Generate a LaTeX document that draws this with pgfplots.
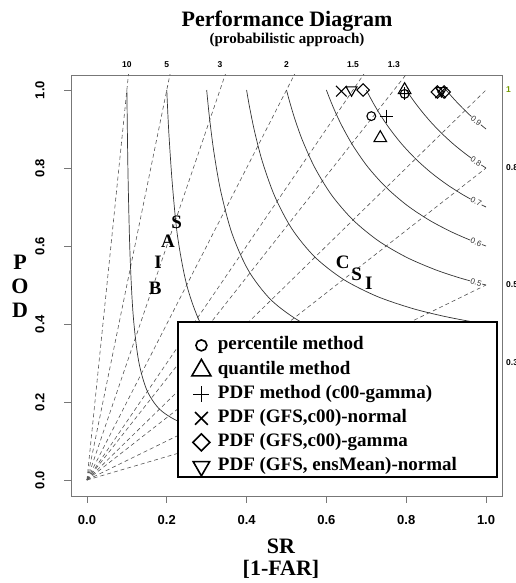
\documentclass[border=0pt]{standalone}
\usepackage{fontspec}
\setmainfont{Liberation Serif}
\newfontfamily\arial{Liberation Sans}
\usepackage{pgfplots}
\pgfplotsset{compat=1.18}
\definecolor{biasline}{HTML}{555555}
\definecolor{csiline}{HTML}{333333}
\definecolor{frame}{HTML}{777777}
\begin{document}
\begin{tikzpicture}
\begin{axis}[
  name=pd,
  at={(0,0)}, anchor=south west,
  scale only axis,
  width=431pt, height=421pt,
  xmin=-0.04, xmax=1.04, ymin=-0.041, ymax=1.0385,
  axis line style={frame, line width=0.8pt},
  xtick={0,0.2,0.4,0.6,0.8,1}, ytick={0,0.2,0.4,0.6,0.8,1},
  tick align=outside, xtick pos=bottom, ytick pos=left,
  major tick length=7pt,
  tick style={frame, line width=0.8pt},
  /pgf/number format/.cd, fixed, fixed zerofill, precision=1, assume math mode=true,
  /pgfplots/.cd,
  tick label style={font=\arial\bfseries\fontsize{13}{13}\selectfont},
  xticklabel style={anchor=center, yshift=-17pt},
  yticklabel style={xshift=-24pt, rotate=90, anchor=center},
  legend style={draw=none, fill=none, inner sep=0pt, at={(0.280,0.382)}, anchor=north west,
    font=\bfseries\fontsize{19}{19}\selectfont, row sep=4pt,
    nodes={inner xsep=7pt, inner ysep=1pt, text height=13.5pt, text depth=4.5pt}},
  legend cell align=left,
]
% bias lines
\addplot[forget plot, biasline, line width=0.6pt, dash pattern=on 4pt off 3pt] coordinates {(0,0) (1,10)};
\addplot[forget plot, biasline, line width=0.6pt, dash pattern=on 4pt off 3pt] coordinates {(0,0) (1,5)};
\addplot[forget plot, biasline, line width=0.6pt, dash pattern=on 4pt off 3pt] coordinates {(0,0) (1,3)};
\addplot[forget plot, biasline, line width=0.6pt, dash pattern=on 4pt off 3pt] coordinates {(0,0) (1,2)};
\addplot[forget plot, biasline, line width=0.6pt, dash pattern=on 4pt off 3pt] coordinates {(0,0) (1,1.5)};
\addplot[forget plot, biasline, line width=0.6pt, dash pattern=on 4pt off 3pt] coordinates {(0,0) (1,1.3)};
\addplot[forget plot, biasline, line width=0.6pt, dash pattern=on 4pt off 3pt] coordinates {(0,0) (1,1)};
\addplot[forget plot, biasline, line width=0.6pt, dash pattern=on 4pt off 3pt] coordinates {(0,0) (1,0.8)};
\addplot[forget plot, biasline, line width=0.6pt, dash pattern=on 4pt off 3pt] coordinates {(0,0) (1,0.5)};
\addplot[forget plot, biasline, line width=0.6pt, dash pattern=on 4pt off 3pt] coordinates {(0,0) (1,0.3)};
% CSI curves
\addplot[forget plot, csiline, line width=0.7pt, smooth] coordinates {(1,0.1) (0.787,0.1028) (0.581,0.1078) (0.4255,0.1156) (0.3077,0.129) (0.2309,0.1499) (0.1818,0.1818) (0.1499,0.2309) (0.129,0.3077) (0.1156,0.4255) (0.1078,0.581) (0.1028,0.787) (0.1,1)};
\addplot[forget plot, csiline, line width=0.7pt, smooth] coordinates {(1,0.2) (0.893,0.205) (0.758,0.214) (0.625,0.227) (0.5,0.25) (0.403,0.284) (0.333,0.333) (0.284,0.403) (0.25,0.5) (0.227,0.625) (0.214,0.758) (0.205,0.893) (0.2,1)};
\addplot[forget plot, csiline, line width=0.7pt, smooth] coordinates {(1,0.3) (0.9346,0.3064) (0.8427,0.3178) (0.7407,0.3352) (0.6316,0.3636) (0.5367,0.4049) (0.4615,0.4615) (0.4049,0.5367) (0.3636,0.6316) (0.3352,0.7407) (0.3178,0.8427) (0.3064,0.9346) (0.3,1)};
\addplot[forget plot, csiline, line width=0.7pt, smooth] coordinates {(1,0.4) (0.9569,0.4073) (0.8929,0.4202) (0.8163,0.4396) (0.7273,0.4706) (0.6431,0.5141) (0.5714,0.5714) (0.5141,0.6431) (0.4706,0.7273) (0.4396,0.8163) (0.4202,0.8929) (0.4073,0.9569) (0.4,1)};
\addplot[forget plot, csiline, line width=0.7pt, smooth] coordinates {(1,0.5) (0.9709,0.5076) (0.9259,0.5208) (0.8696,0.5405) (0.8,0.5714) (0.7299,0.6135) (0.6667,0.6667) (0.6135,0.7299) (0.5714,0.8) (0.5405,0.8696) (0.5208,0.9259) (0.5076,0.9709) (0.5,1)};
\addplot[forget plot, csiline, line width=0.7pt, smooth] coordinates {(1,0.6) (0.9804,0.6073) (0.9494,0.6198) (0.9091,0.6383) (0.8571,0.6667) (0.8021,0.7042) (0.75,0.75) (0.7042,0.8021) (0.6667,0.8571) (0.6383,0.9091) (0.6198,0.9494) (0.6073,0.9804) (0.6,1)};
\addplot[forget plot, csiline, line width=0.7pt, smooth] coordinates {(1,0.7) (0.9873,0.7064) (0.9669,0.7172) (0.9396,0.733) (0.9032,0.7568) (0.8631,0.7874) (0.8235,0.8235) (0.7874,0.8631) (0.7568,0.9032) (0.733,0.9396) (0.7172,0.9669) (0.7064,0.9873) (0.7,1)};
\addplot[forget plot, csiline, line width=0.7pt, smooth] coordinates {(1,0.8) (0.9926,0.8048) (0.9804,0.813) (0.9639,0.8247) (0.9412,0.8421) (0.9153,0.8639) (0.8889,0.8889) (0.8639,0.9153) (0.8421,0.9412) (0.8247,0.9639) (0.813,0.9804) (0.8048,0.9926) (0.8,1)};
\addplot[forget plot, csiline, line width=0.7pt, smooth] coordinates {(1,0.9) (0.9967,0.9027) (0.9912,0.9073) (0.9836,0.9137) (0.973,0.9231) (0.9605,0.9346) (0.9474,0.9474) (0.9346,0.9605) (0.9231,0.973) (0.9137,0.9836) (0.9073,0.9912) (0.9027,0.9967) (0.9,1)};
% CSI contour labels
\addplot[forget plot, draw=none, mark=none, nodes near coords, point meta=explicit symbolic,
  visualization depends on={value \thisrow{r} \as \rot},
  every node near coord/.append style={anchor=center, rotate=\rot, fill=white, inner sep=0.6pt,
    font=\arial\fontsize{8}{8}\selectfont, text=black!80}]
  table[meta=lab] {
x y lab r
0.975 0.9212 0.9 -40
0.975 0.8167 0.8 -33
0.975 0.7128 0.7 -27
0.975 0.6094 0.6 -22
0.975 0.5065 0.5 -18
};
% letters
\addplot[forget plot, draw=none, mark=none, nodes near coords, point meta=explicit symbolic,
  every node near coord/.append style={anchor=center, inner sep=0pt,
    font=\bfseries\fontsize{19}{19}\selectfont}]
  table[meta=lab] {
x y lab
0.225 0.662 S
0.203 0.611 A
0.178 0.559 I
0.171 0.492 B
0.641 0.559 C
0.676 0.528 S
0.706 0.505 I
};
% method markers
\addplot[forget plot, only marks, mark=o, mark size=4.4pt, mark options={line width=1.1pt}] coordinates {(0.7125,0.933) (0.796,0.99)};
\addplot[forget plot, only marks, mark=triangle, mark size=7.3pt, mark options={line width=1.1pt}] coordinates {(0.735,0.877) (0.796,1.0)};
\addplot[forget plot, only marks, mark=+, mark size=6.5pt, mark options={line width=1.1pt}] coordinates {(0.75,0.933) (0.796,0.99)};
\addplot[forget plot, only marks, mark=x, mark size=7.5pt, mark options={line width=1.1pt}] coordinates {(0.6375,0.997) (0.886,0.993)};
\addplot[forget plot, only marks, mark=square, mark size=4.4pt, mark options={rotate=45, line width=1.1pt}] coordinates {(0.692,1.0) (0.878,0.995) (0.895,0.995)};
\addplot[forget plot, only marks, mark=triangle, mark size=6.2pt, mark options={rotate=180, line width=1.1pt}] coordinates {(0.663,1.0) (0.888,0.998)};
% legend box
\draw[line width=2.4pt, fill=white] (rel axis cs:0.248,0.045) rectangle (rel axis cs:0.988,0.413);
\addlegendimage{only marks, mark=o, mark size=5.5pt, mark options={line width=1.6pt}}
\addlegendentry{percentile method}
\addlegendimage{only marks, mark=triangle, mark size=11pt, mark options={line width=1.6pt}}
\addlegendentry{quantile method}
\addlegendimage{only marks, mark=+, mark size=8pt, mark options={line width=1.6pt}}
\addlegendentry{PDF method (c00-gamma)}
\addlegendimage{only marks, mark=x, mark size=9pt, mark options={line width=1.6pt}}
\addlegendentry{PDF (GFS,c00)-normal}
\addlegendimage{only marks, mark=square, mark size=6pt, mark options={rotate=45, line width=1.6pt}}
\addlegendentry{PDF (GFS,c00)-gamma}
\addlegendimage{only marks, mark=triangle, mark size=9.5pt, mark options={rotate=180, line width=1.6pt}}
\addlegendentry{PDF (GFS, ensMean)-normal}
\end{axis}
% bias labels, top and right
\begin{scope}[every node/.style={font=\arial\bfseries\fontsize{8.5}{8.5}\selectfont, inner sep=0pt}]
\node[anchor=base] at (55.87pt,428pt) {10};
\node[anchor=base] at (95.78pt,428pt) {5};
\node[anchor=base] at (149.0pt,428pt) {3};
\node[anchor=base] at (215.5pt,428pt) {2};
\node[anchor=base] at (282.0pt,428pt) {1.5};
\node[anchor=base] at (322.9pt,428pt) {1.3};
\node[anchor=west, text={rgb,1:red,0.45;green,0.6;blue,0}] at (435pt,406pt) {1};
\node[anchor=west] at (435pt,328pt) {0.8};
\node[anchor=west] at (435pt,211pt) {0.5};
\node[anchor=west] at (435pt,133pt) {0.3};
\end{scope}
% titles
\node[anchor=base, font=\bfseries\fontsize{22}{22}\selectfont] at (216pt,469pt) {Performance Diagram};
\node[anchor=base, font=\bfseries\fontsize{15}{15}\selectfont] at (216pt,452pt) {(probabilistic approach)};
\node[anchor=base, font=\bfseries\fontsize{22}{22}\selectfont] at (210pt,-57pt) {SR};
\node[anchor=base, font=\bfseries\fontsize{22}{22}\selectfont] at (210pt,-79pt) {[1-FAR]};
\node[anchor=center, font=\bfseries\fontsize{22}{22}\selectfont] at (-51pt,234pt) {P};
\node[anchor=center, font=\bfseries\fontsize{22}{22}\selectfont] at (-51pt,210pt) {O};
\node[anchor=center, font=\bfseries\fontsize{22}{22}\selectfont] at (-51pt,186pt) {D};
\pgfresetboundingbox
\path (-71pt,-87pt) rectangle (444pt,496pt);
\end{tikzpicture}
\end{document}
